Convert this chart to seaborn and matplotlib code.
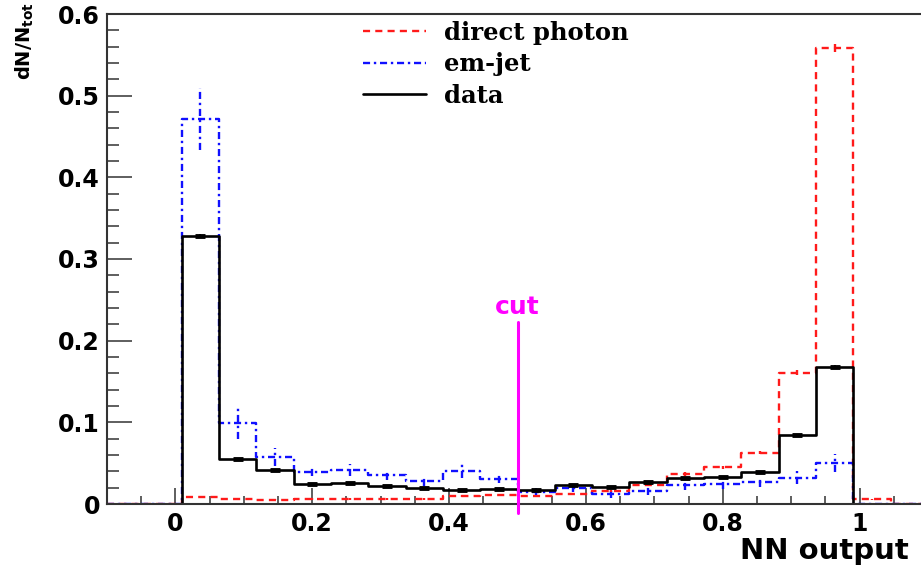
import numpy as np
import pandas as pd
import seaborn as sns
import matplotlib
matplotlib.use("Agg")
import matplotlib.pyplot as plt
from matplotlib.lines import Line2D
from matplotlib.ticker import MultipleLocator, FixedLocator

# 22 equal bins over the NN output range [-0.1, 1.1]
bin_edges = np.linspace(-0.1, 1.1, 23)
bin_centers = 0.5 * (bin_edges[:-1] + bin_edges[1:])

# normalised bin contents dN/N_tot
data_vals = [0, 0, 0.328, 0.055, 0.0416, 0.0245, 0.0253, 0.0224, 0.0196, 0.017,
             0.018, 0.017, 0.0229, 0.0212, 0.0266, 0.032, 0.0334, 0.0395, 0.0845,
             0.168, 0, 0]
data_err = [0, 0, 0.002, 0.001, 0.001, 0.001, 0.001, 0.001, 0.001, 0.001, 0.001,
            0.001, 0.001, 0.001, 0.001, 0.001, 0.001, 0.001, 0.0015, 0.002, 0, 0]

photon_vals = [0, 0, 0.009, 0.0057, 0.0055, 0.006, 0.0062, 0.0065, 0.006, 0.0098,
               0.0106, 0.0098, 0.0126, 0.0163, 0.023, 0.0367, 0.0449, 0.0628,
               0.161, 0.5585, 0.0057, 0]
photon_err = [0, 0, 0.001, 0.001, 0.001, 0.001, 0.001, 0.001, 0.001, 0.001, 0.001,
              0.001, 0.001, 0.001, 0.0015, 0.002, 0.002, 0.002, 0.003, 0.005, 0.001, 0]

emjet_vals = [0, 0, 0.471, 0.0995, 0.057, 0.0396, 0.0416, 0.0355, 0.0285, 0.0404,
              0.0306, 0.015, 0.019, 0.0122, 0.016, 0.0233, 0.024, 0.0273, 0.0322,
              0.0498, 0, 0]
emjet_err = [0, 0, 0.038, 0.02, 0.011, 0.005, 0.007, 0.006, 0.006, 0.008, 0.005,
             0.004, 0.004, 0.005, 0.005, 0.006, 0.006, 0.006, 0.008, 0.011, 0, 0]

series_labels = ["direct photon", "em-jet", "data"]
x_tick_values = [0, 0.2, 0.4, 0.6, 0.8, 1.0]
x_tick_labels = ["0", "0.2", "0.4", "0.6", "0.8", "1"]
y_tick_values = [0, 0.1, 0.2, 0.3, 0.4, 0.5, 0.6]
y_tick_labels = ["0", "0.1", "0.2", "0.3", "0.4", "0.5", "0.6"]
cut_value = 0.5

sns.set_style("ticks")
plt.rcParams["font.family"] = ["DejaVu Sans"]
plt.rcParams["mathtext.fontset"] = "dejavusans"

RED = "#ff1a1a"
BLUE = "#1010ff"
MAGENTA = "#ff00ff"

fig = plt.figure(figsize=(9.21, 5.65), dpi=100)
ax = fig.add_axes([107 / 921, 61 / 565, 821 / 921, 490 / 565])

df = pd.DataFrame({"x": bin_centers, "data": data_vals,
                   "photon": photon_vals, "emjet": emjet_vals})
edges_list = [float(e) for e in bin_edges]

red_dash = (0, (3.0, 2.2))
blue_dashdot = (0, (3.0, 1.6, 1.0, 1.6))

sns.histplot(data=df, x="x", weights="photon", bins=edges_list, element="step",
             fill=False, color=RED, linewidth=1.7, linestyle=red_dash, ax=ax)
sns.histplot(data=df, x="x", weights="emjet", bins=edges_list, element="step",
             fill=False, color=BLUE, linewidth=1.7, linestyle=blue_dashdot, ax=ax)
sns.histplot(data=df, x="x", weights="data", bins=edges_list, element="step",
             fill=False, color="black", linewidth=1.9, ax=ax)

# statistical error bars at bin centres
inside = slice(2, 21)
eb = ax.errorbar(bin_centers[inside], np.array(emjet_vals)[inside],
                 yerr=np.array(emjet_err)[inside], fmt="none", ecolor=BLUE,
                 elinewidth=1.7)
eb[2][0].set_linestyle(blue_dashdot)
ax.errorbar(bin_centers[inside], np.array(photon_vals)[inside],
            yerr=np.array(photon_err)[inside], fmt="none", ecolor=RED,
            elinewidth=1.7)
ax.errorbar(bin_centers[2:20], np.array(data_vals)[2:20],
            yerr=np.array(data_err)[2:20], fmt="_", color="black",
            markersize=7, markeredgewidth=3.5, elinewidth=1.5)

# cut position
ax.plot([cut_value, cut_value], [-0.011, 0.223], color=MAGENTA, linewidth=2.2,
        clip_on=False, zorder=5)
ax.text(cut_value, 0.226, "cut", color=MAGENTA, fontsize=18, fontweight="bold",
        ha="center", va="bottom")

ax.set_xlim(-0.1, 1.1)
ax.set_ylim(0, 0.6)
ax.set_xlabel("")
ax.set_ylabel("")

ax.xaxis.set_major_locator(FixedLocator(x_tick_values))
ax.set_xticklabels(x_tick_labels)
ax.xaxis.set_minor_locator(MultipleLocator(0.05))
ax.yaxis.set_major_locator(FixedLocator(y_tick_values))
ax.set_yticklabels(y_tick_labels)
ax.yaxis.set_minor_locator(MultipleLocator(0.02))

ax.tick_params(axis="both", which="both", direction="in", color="#333333",
               labelcolor="black", width=1.1, top=False, right=False)
ax.tick_params(axis="y", which="major", length=18, pad=5)
ax.tick_params(axis="y", which="minor", length=8.5)
ax.tick_params(axis="x", which="major", length=11.5, pad=6)
ax.tick_params(axis="x", which="minor", length=5.8)
for lab in ax.get_xticklabels() + ax.get_yticklabels():
    lab.set_fontsize(17)
    lab.set_fontweight("bold")

for side in ["left", "bottom", "top", "right"]:
    ax.spines[side].set_linewidth(1.5)
    ax.spines[side].set_color("#333333")

handles = [Line2D([], [], color=RED, linewidth=1.7, linestyle=red_dash),
           Line2D([], [], color=BLUE, linewidth=1.7, linestyle=blue_dashdot),
           Line2D([], [], color="black", linewidth=1.9)]
ax.legend(handles, series_labels, loc="upper left",
          bbox_to_anchor=(363 / 921, 1 - 21 / 565),
          bbox_transform=fig.transFigure, frameon=False, borderpad=0,
          borderaxespad=0, handlelength=2.6, handletextpad=0.75,
          labelspacing=0.3, labelcolor="black",
          prop={"family": "DejaVu Serif", "weight": "bold", "size": 17.5})

fig.text(740 / 921, 6 / 565, "NN output", fontsize=21, fontweight="bold",
         color="black", ha="left", va="baseline")
fig.text(25 / 921, 1 - 2 / 565, r"$\mathbf{dN/N_{tot}}$", fontsize=14,
         color="black", rotation=90, ha="center", va="top")

fig.savefig("out.png", dpi=100)
